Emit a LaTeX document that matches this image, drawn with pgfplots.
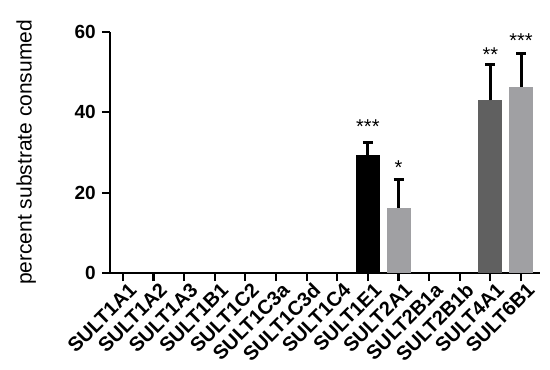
\documentclass[border=0pt]{standalone}
\usepackage{pgfplots}
\pgfplotsset{compat=1.18}
\usepackage{fontspec}
\setmainfont{Liberation Sans}
\definecolor{lgray}{HTML}{A0A0A3}
\definecolor{dgray}{HTML}{606060}
\begin{document}
\begin{tikzpicture}
\useasboundingbox (-110pt,-97pt) rectangle (440pt,273pt);
\begin{axis}[
  at={(0pt,0pt)}, anchor=south west,
  scale only axis, width=430pt, height=241pt,
  xmin=-0.42, xmax=13.62, ymin=0, ymax=60,
  axis x line*=bottom, axis y line*=left,
  axis line style={line width=2.2pt, -},
  xtick={0,...,13},
  xticklabels={SULT1A1,SULT1A2,SULT1A3,SULT1B1,SULT1C2,SULT1C3a,SULT1C3d,SULT1C4,SULT1E1,SULT2A1,SULT2B1a,SULT2B1b,SULT4A1,SULT6B1},
  xticklabel style={rotate=45, anchor=north east, font=\fontsize{20}{22}\selectfont\bfseries, inner sep=0pt, xshift=3pt, yshift=-4pt},
  ytick={0,20,40,60},
  yticklabel style={font=\fontsize{19}{21}\selectfont\bfseries, inner sep=2pt, xshift=-4pt},
  /pgf/number format/assume math mode=true,
  tick style={line width=2.2pt, black},
  tick align=outside, major tick length=8pt,
  ylabel={percent substrate consumed},
  every axis y label/.style={at={(axis description cs:-0.195,0.5)}, rotate=90, anchor=center, font=\fontsize{21}{24}\selectfont},
  ybar, bar width=24pt, bar shift=0pt,
  error bars/y dir=plus, error bars/y explicit,
  error bars/error bar style={line width=3pt, black},
  error bars/error mark options={line width=3pt, black, mark size=5pt, rotate=90},
  clip=false,
]
\addplot[fill=black, draw=none] coordinates {(8,29.4) +- (0,3.2)};
\addplot[fill=lgray, draw=none] coordinates {(9,16.2) +- (0,7.2)};
\addplot[fill=dgray, draw=none] coordinates {(12,43.0) +- (0,9.0)};
\addplot[fill=lgray, draw=none] coordinates {(13,46.3) +- (0,8.4)};
\node[anchor=base, font=\fontsize{20}{22}\selectfont] at (axis cs:8,34.7) {***};
\node[anchor=base, font=\fontsize{20}{22}\selectfont] at (axis cs:9,24.5) {*};
\node[anchor=base, font=\fontsize{20}{22}\selectfont] at (axis cs:12,52.6) {**};
\node[anchor=base, font=\fontsize{20}{22}\selectfont] at (axis cs:13,56.1) {***};
\end{axis}
\end{tikzpicture}
\end{document}
